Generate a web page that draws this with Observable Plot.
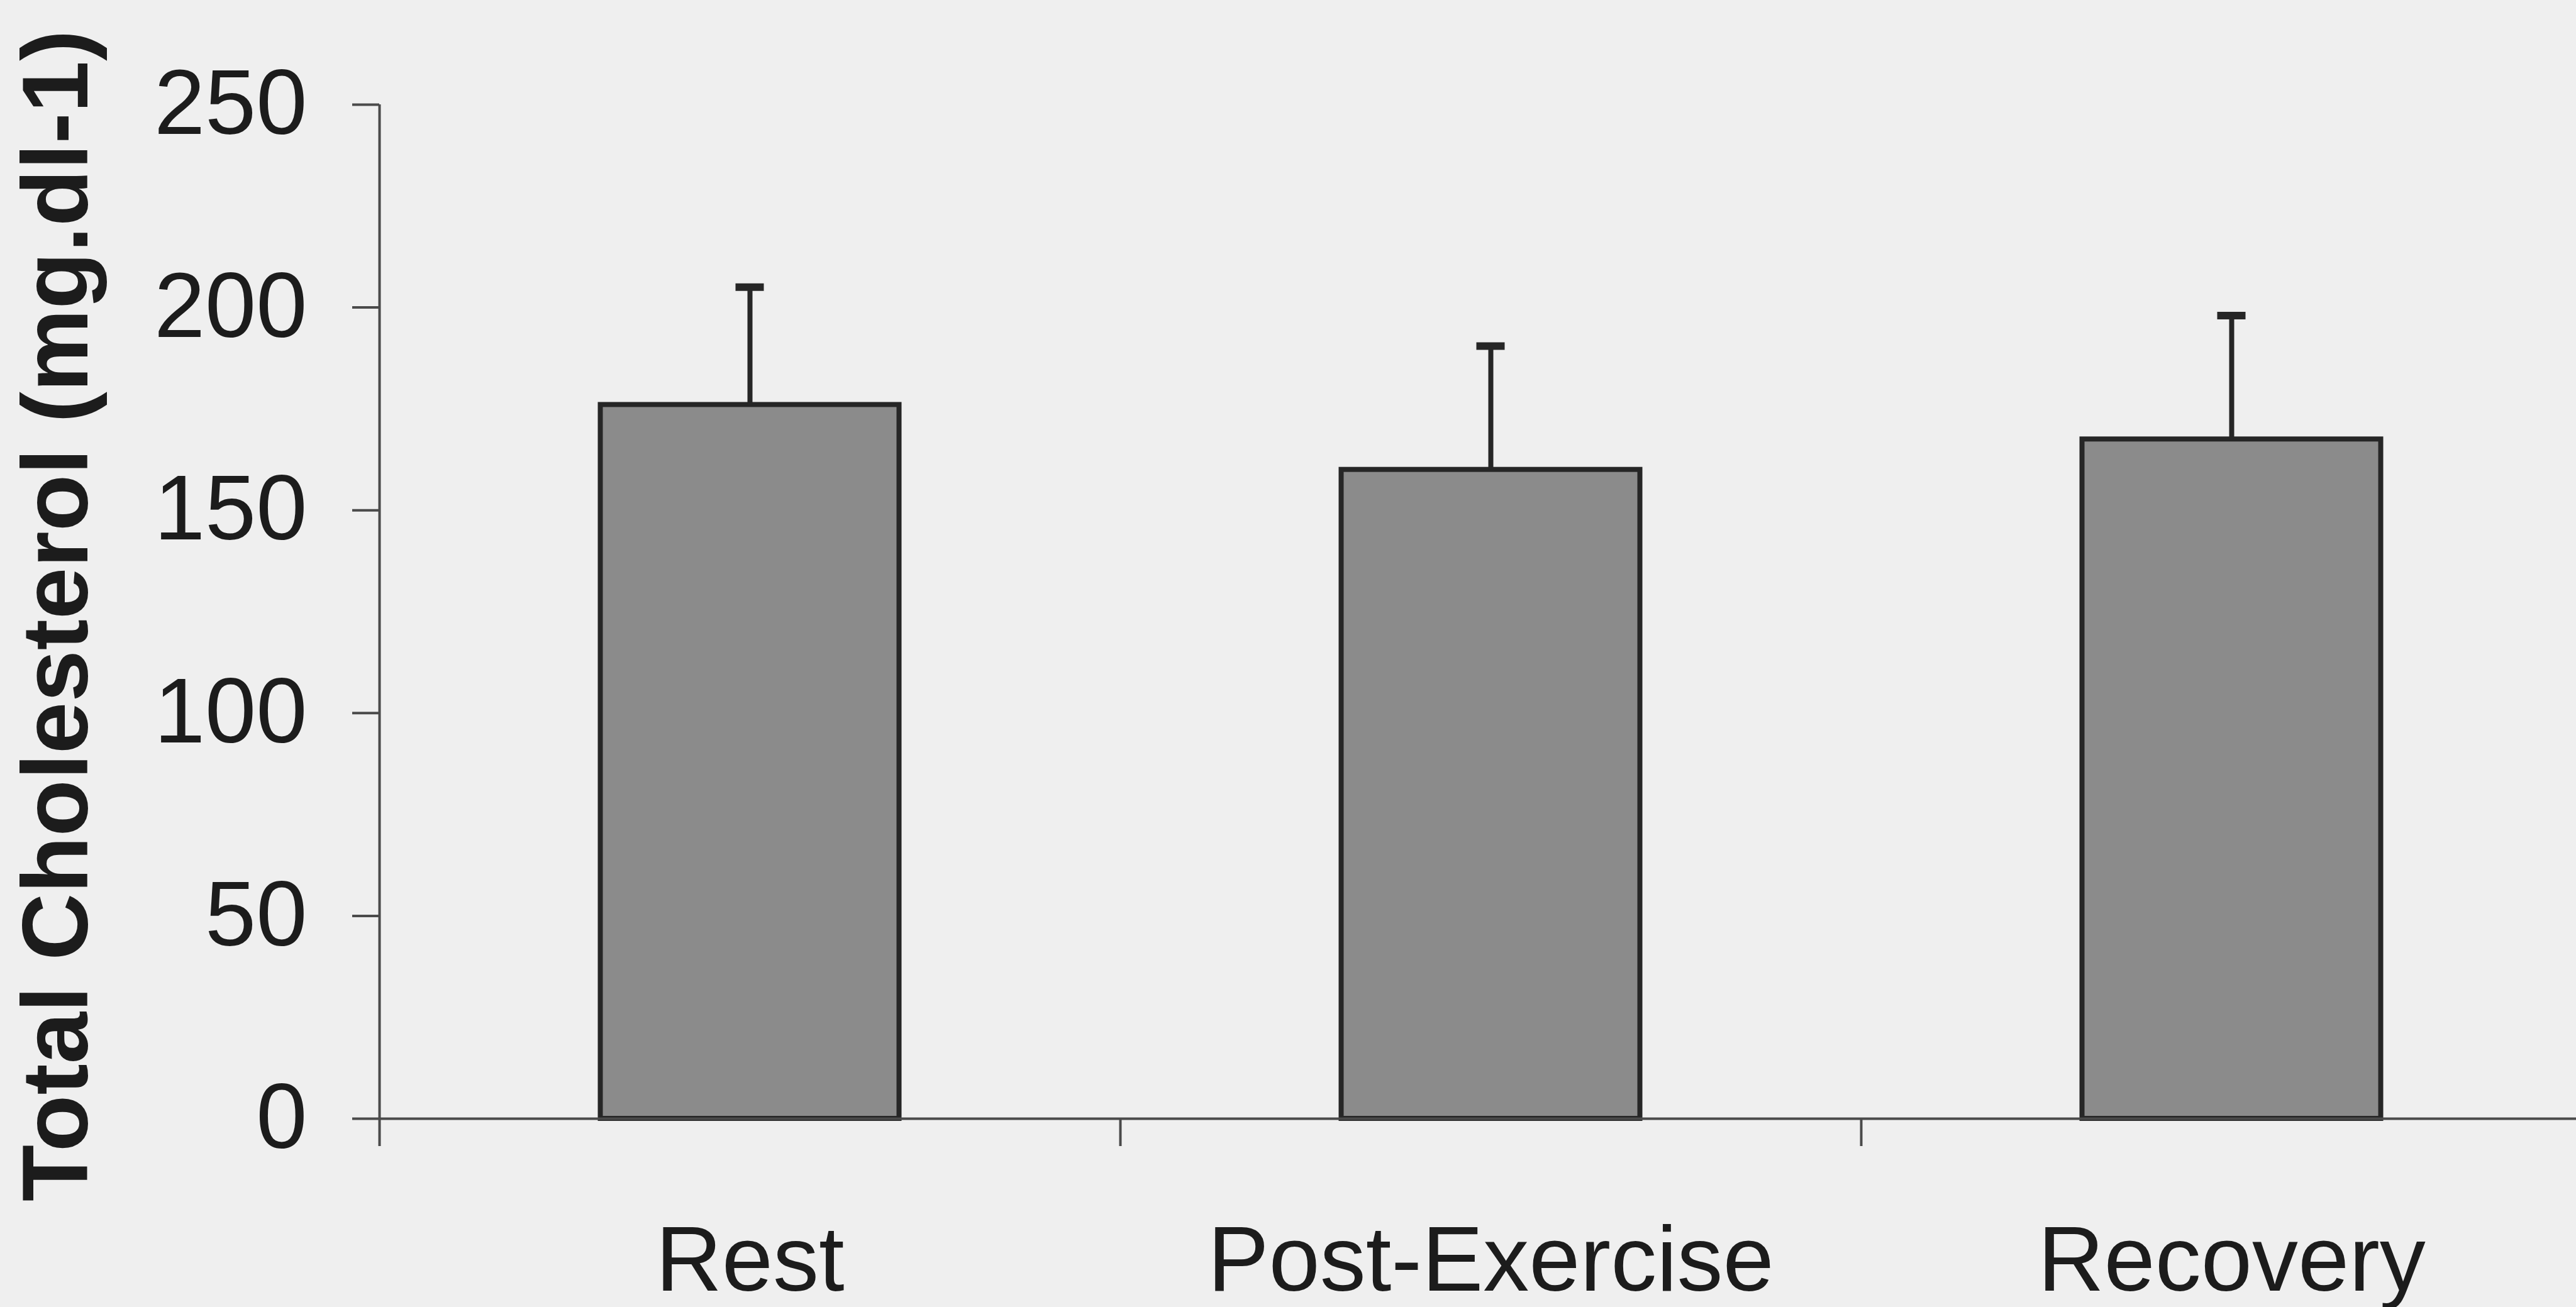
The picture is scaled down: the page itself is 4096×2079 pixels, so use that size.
<!DOCTYPE html>
<html><head><meta charset="utf-8">
<script src="https://cdn.jsdelivr.net/npm/d3@7"></script>
<script src="https://cdn.jsdelivr.net/npm/@observablehq/plot@0.6"></script>
<style>
html,body{margin:0;padding:0;background:#efefef;overflow:hidden}
</style></head><body><div id="chart"></div>
<script>
const categories = ["Rest", "Post-Exercise", "Recovery"];
const means = [176, 160, 167.5];
const sds = [29, 30.5, 30.5];
const yTicks = [0, 50, 100, 150, 200, 250];
const yTitle = "Total Cholesterol (mg.dl-1)";

const W = 4096, H = 2079;
const data = categories.map((c, i) => ({cat: c, mean: means[i], upper: means[i] + sds[i]}));
const left = 603, step = 1178;
const y0 = 1779, yTop = 166;
const font = "'Liberation Sans', Arial, Helvetica, sans-serif";
const barW = 475, capW = 45;
const inBar = (step - barW) / 2, inCap = (step - capW) / 2;
const ink = "#1c1c1c", axisCol = "#4a4a4a";

const chart = Plot.plot({
  width: W, height: H,
  marginLeft: left, marginRight: 0, marginTop: 179, marginBottom: H - y0,
  style: {background: "#efefef", fontFamily: font, color: ink, overflow: "visible"},
  x: {domain: categories, range: [left, left + step * 3], padding: 0, axis: null},
  y: {domain: [0, 250], range: [y0, yTop], axis: null},
  marks: [
    Plot.barY(data, {x: "cat", y: "mean", fill: "#8b8b8b", stroke: "#262626", strokeWidth: 8,
      insetLeft: inBar, insetRight: inBar}),
    Plot.ruleX(data, {x: "cat", y1: "mean", y2: "upper", stroke: "#262626", strokeWidth: 8}),
    Plot.tickY(data, {x: "cat", y: "upper", stroke: "#262626", strokeWidth: 12,
      insetLeft: inCap, insetRight: inCap}),
    Plot.ruleY([0], {stroke: axisCol, strokeWidth: 4}),
    Plot.ruleX([categories[0]], {x: d => d, dx: -step / 2, y1: 250, y2: 0, insetBottom: -44,
      stroke: axisCol, strokeWidth: 4}),
    Plot.ruleX(categories.slice(1), {x: d => d, dx: -step / 2, y1: 0, y2: 0, insetBottom: -44,
      stroke: axisCol, strokeWidth: 4}),
    Plot.axisY({ticks: yTicks, tickSize: 43, tickPadding: 72, fontSize: 146, label: null,
      stroke: axisCol, strokeWidth: 4, fill: ink}),
    Plot.axisX({tickSize: 0, tickPadding: 170, fontSize: 146, label: null, fill: ink}),
    Plot.text([yTitle], {frameAnchor: "left", textAnchor: "middle", lineAnchor: "middle",
      rotate: -90, dx: -512, fontSize: 148, fontWeight: "bold", fill: ink})
  ]
});
document.getElementById("chart").appendChild(chart);
</script>
</body></html>
